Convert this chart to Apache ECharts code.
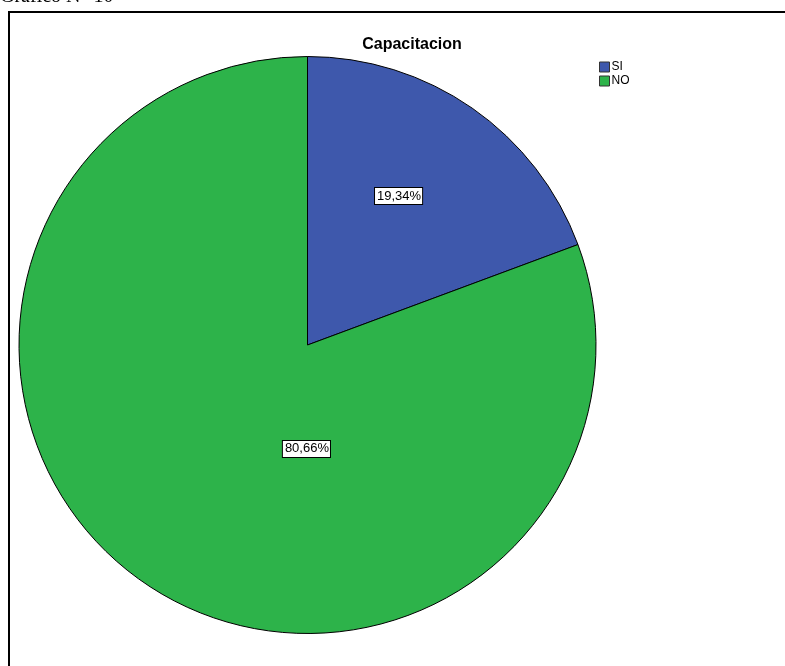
<!DOCTYPE html>
<html><head><meta charset="utf-8">
<script src="https://cdn.jsdelivr.net/npm/echarts@6/dist/echarts.min.js"></script>
<style>html,body{margin:0;padding:0;background:#fff}#c{width:785px;height:666px}</style>
</head><body><div id="c"></div>
<script>
const categories = ['SI', 'NO'];
const values = [19.34, 80.66];
const colors = ['#3e58ac', '#2db34a'];
const labelOffsets = [[7, -28], [83, -17]];

const chart = echarts.init(document.getElementById('c'));
chart.setOption({
  animation: false,
  title: {
    text: 'Capacitacion', left: 407, top: 32, textAlign: 'center',
    textStyle: { fontFamily: 'Liberation Sans, Arial', fontWeight: 'bold', fontSize: 16, color: '#000' }
  },
  legend: {
    orient: 'vertical', left: 599, top: 61, itemWidth: 10, itemHeight: 10, itemGap: 2,
    icon: 'rect', padding: 0,
    data: categories,
    textStyle: { fontFamily: 'Liberation Sans, Arial', fontSize: 12, color: '#000', padding: [0, 0, 0, -3] },
    itemStyle: { borderColor: '#333', borderWidth: 1 }
  },
  graphic: [
    { type: 'rect', shape: { x: 9, y: 12, width: 800, height: 700 }, style: { fill: 'none', stroke: '#000', lineWidth: 2 }, silent: true },
    { type: 'text', left: 0, top: -13, style: { text: 'Gráfico N° 10', font: '20px "Liberation Serif", "Times New Roman", serif', fill: '#000' } }
  ],
  series: [{
    type: 'pie',
    center: [307.5, 345],
    radius: 288.5,
    startAngle: 90,
    clockwise: true,
    avoidLabelOverlap: false,
    itemStyle: { borderColor: '#000', borderWidth: 1 },
    labelLine: { show: false },
    emphasis: { disabled: true },
    data: categories.map((n, i) => ({
      name: n, value: values[i], itemStyle: { color: colors[i] },
      label: { offset: labelOffsets[i] }
    })),
    label: {
      show: true, position: 'inside',
      formatter: p => p.value.toFixed(2).replace('.', ',') + '%',
      fontFamily: 'Liberation Sans, Arial', fontSize: 13, color: '#000',
      backgroundColor: '#fff', borderColor: '#000', borderWidth: 1,
      padding: [2, 1, 1, 2]
    }
  }]
});
</script></body></html>
